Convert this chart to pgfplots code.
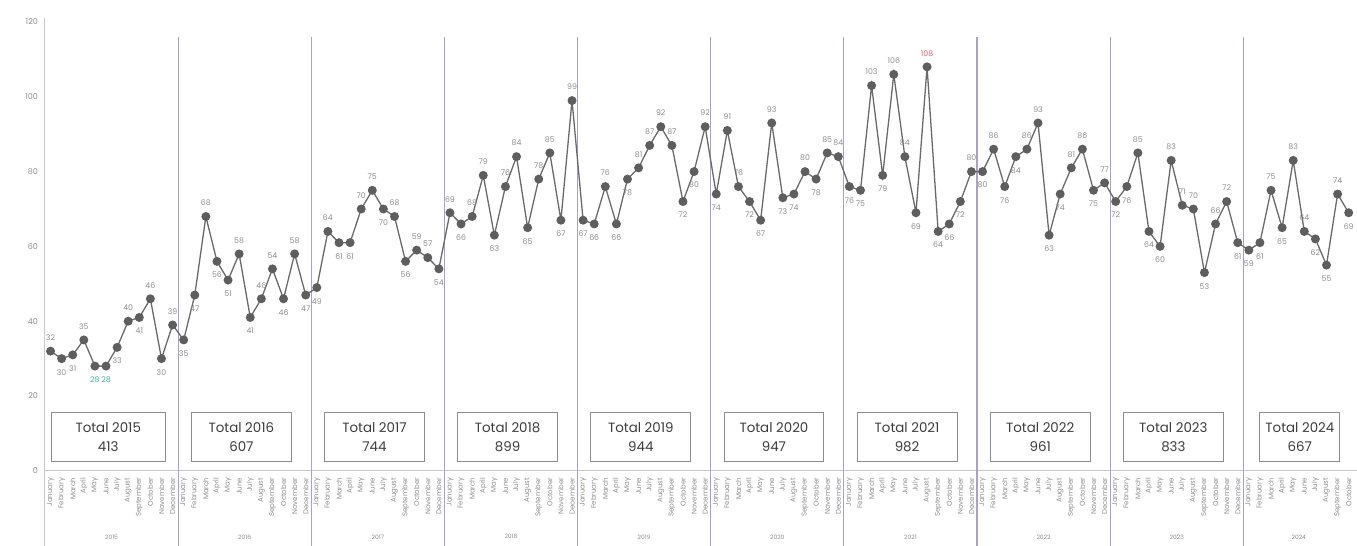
\documentclass[border=0pt]{standalone}
\usepackage{fontspec}
\setmainfont{Poppins}
\usepackage{pgfplots}
\usepackage{pgfplotstable}
\pgfplotsset{compat=1.18}
\usetikzlibrary{calc}

\definecolor{serie}{HTML}{6A6A6A}
\definecolor{marq}{HTML}{5E5E5E}
\definecolor{lab}{HTML}{8E8E8E}
\definecolor{labmin}{HTML}{3BB39E}
\definecolor{labmax}{HTML}{E05C74}
\definecolor{divline}{HTML}{ABA1C4}
\definecolor{axline}{HTML}{C8C8C8}
\definecolor{boxline}{HTML}{8C8C8C}
\definecolor{boxtext}{HTML}{3C3C3C}

% i = month index from Jan 2015, v = value, p = label above (1) / below (-1),
% c = label colour (0 grey, 1 minimum, 2 maximum)
\pgfplotstableread{
i v p c
0 32 1 0
1 30 -1 0
2 31 -1 0
3 35 1 0
4 28 -1 1
5 28 -1 1
6 33 -1 0
7 40 1 0
8 41 -1 0
9 46 1 0
10 30 -1 0
11 39 1 0
12 35 -1 0
13 47 -1 0
14 68 1 0
15 56 -1 0
16 51 -1 0
17 58 1 0
18 41 -1 0
19 46 1 0
20 54 1 0
21 46 -1 0
22 58 1 0
23 47 -1 0
24 49 -1 0
25 64 1 0
26 61 -1 0
27 61 -1 0
28 70 1 0
29 75 1 0
30 70 -1 0
31 68 1 0
32 56 -1 0
33 59 1 0
34 57 1 0
35 54 -1 0
36 69 1 0
37 66 -1 0
38 68 1 0
39 79 1 0
40 63 -1 0
41 76 1 0
42 84 1 0
43 65 -1 0
44 78 1 0
45 85 1 0
46 67 -1 0
47 99 1 0
48 67 -1 0
49 66 -1 0
50 76 1 0
51 66 -1 0
52 78 -1 0
53 81 1 0
54 87 1 0
55 92 1 0
56 87 1 0
57 72 -1 0
58 80 -1 0
59 92 1 0
60 74 -1 0
61 91 1 0
62 76 1 0
63 72 -1 0
64 67 -1 0
65 93 1 0
66 73 -1 0
67 74 -1 0
68 80 1 0
69 78 -1 0
70 85 1 0
71 84 1 0
72 76 -1 0
73 75 -1 0
74 103 1 0
75 79 -1 0
76 106 1 0
77 84 1 0
78 69 -1 0
79 108 1 2
80 64 -1 0
81 66 -1 0
82 72 -1 0
83 80 1 0
84 80 -1 0
85 86 1 0
86 76 -1 0
87 84 -1 0
88 86 1 0
89 93 1 0
90 63 -1 0
91 74 -1 0
92 81 1 0
93 86 1 0
94 75 -1 0
95 77 1 0
96 72 -1 0
97 76 -1 0
98 85 1 0
99 64 -1 0
100 60 -1 0
101 83 1 0
102 71 1 0
103 70 1 0
104 53 -1 0
105 66 1 0
106 72 1 0
107 61 -1 0
108 59 -1 0
109 61 -1 0
110 75 1 0
111 65 -1 0
112 83 1 0
113 64 1 0
114 62 -1 0
115 55 -1 0
116 74 1 0
117 69 -1 0
}\monthly

\newcommand\mo{January,February,March,April,May,June,July,August,September,October,November,December}

\begin{document}
\begin{tikzpicture}
\begin{axis}[
    name=ax,
    scale only axis,
    width=656.25pt,
    height=224.5pt,
    xmin=-0.5, xmax=117.75,
    ymin=0, ymax=120,
    clip=false,
    axis line style={draw=none},
    xtick={0,...,117},
    xticklabels/.expanded={\mo,\mo,\mo,\mo,\mo,\mo,\mo,\mo,\mo,\mo},
    x tick label style={rotate=90, anchor=east, font=\fontsize{3.5}{3.5}\selectfont, text=lab},
    ytick={0,20,...,120},
    y tick label style={font=\fontsize{4}{4}\selectfont, text=lab},
    /pgf/number format/assume math mode=true,
    major tick length=0pt,
  ]
\draw[axline, line width=0.5pt] (axis cs:-0.5,0) -- (axis cs:117.75,0);
\draw[axline, line width=0.5pt] (axis cs:-0.5,121) -- ([yshift=-37.5pt]axis cs:-0.5,0);
\pgfplotsinvokeforeach{11.5,23.5,35.5,47.5,59.5,71.5,83.5,95.5,107.5}{
  \draw[divline, line width=0.55pt] (axis cs:#1,116) -- ([yshift=-37.5pt]axis cs:#1,0);
}

\addplot[serie, line width=0.65pt, mark=*, mark size=1.9pt,
    mark options={fill=marq, draw=marq},
    point meta=explicit symbolic,
    visualization depends on={\thisrow{p} \as \lpos},
    visualization depends on={\thisrow{c} \as \lcol},
    nodes near coords={\ifdim\lcol pt<0.5pt\color{lab}\else\ifdim\lcol pt<1.5pt\color{labmin}\else\color{labmax}\fi\fi\pgfplotspointmeta},
    nodes near coords style={anchor=center, yshift=\lpos*6.8pt,
      font=\fontsize{3.9}{3.9}\selectfont},
  ] table[x=i, y=v, meta=v] {\monthly};

\tikzset{tot/.style={draw=boxline, line width=0.45pt, text=boxtext, align=center,
  minimum width=50pt, minimum height=24.5pt, inner sep=1pt,
  font=\fontsize{6.7}{9.8}\selectfont}}
\node[tot, minimum width=57pt] at (axis cs:5.2,9) {Total 2015\\413};
\node[tot] at (axis cs:17.2,9) {Total 2016\\607};
\node[tot] at (axis cs:29.2,9) {Total 2017\\744};
\node[tot] at (axis cs:41.2,9) {Total 2018\\899};
\node[tot] at (axis cs:53.2,9) {Total 2019\\944};
\node[tot] at (axis cs:65.2,9) {Total 2020\\947};
\node[tot] at (axis cs:77.2,9) {Total 2021\\982};
\node[tot] at (axis cs:89.2,9) {Total 2022\\961};
\node[tot] at (axis cs:101.2,9) {Total 2023\\833};
\node[tot, minimum width=40pt] at (axis cs:112.6,9) {Total 2024\\667};

\tikzset{yr/.style={text=lab, font=\fontsize{3}{3}\selectfont, yshift=-33pt}}
\node[yr] at (axis cs:5.5,0) {2015};
\node[yr] at (axis cs:17.5,0) {2016};
\node[yr] at (axis cs:29.5,0) {2017};
\node[yr] at (axis cs:41.5,0) {2018};
\node[yr] at (axis cs:53.5,0) {2019};
\node[yr] at (axis cs:65.5,0) {2020};
\node[yr] at (axis cs:77.5,0) {2021};
\node[yr] at (axis cs:89.5,0) {2022};
\node[yr] at (axis cs:101.5,0) {2023};
\node[yr] at (axis cs:112.5,0) {2024};
\end{axis}
\pgfresetboundingbox
\path ($(ax.south west)+(-22.5pt,-37.5pt)$) rectangle ($(ax.north east)+(0pt,11pt)$);
\end{tikzpicture}
\end{document}
